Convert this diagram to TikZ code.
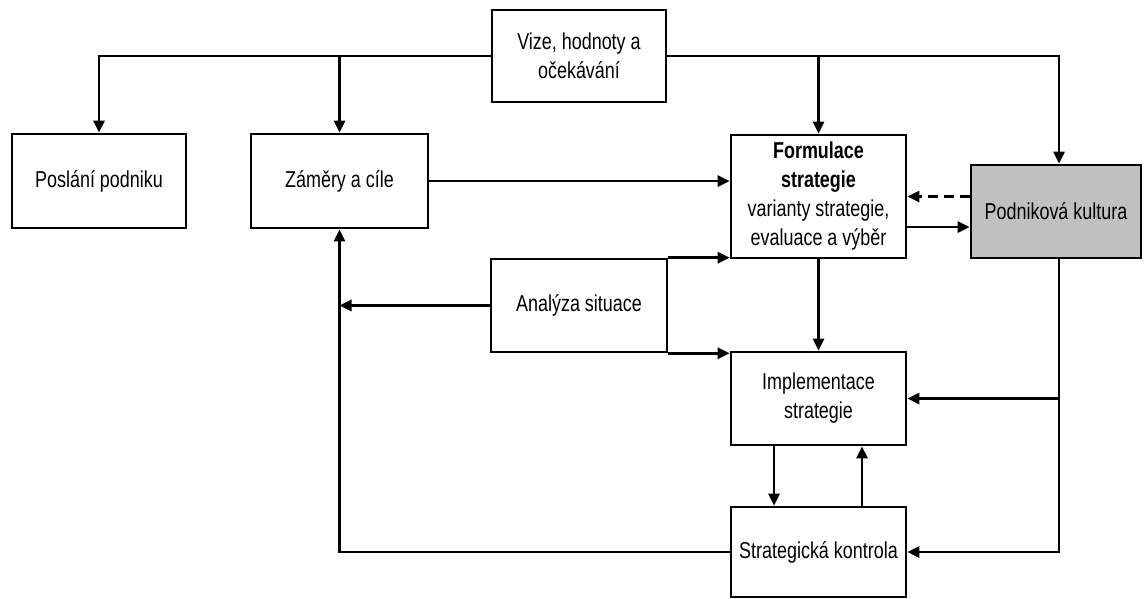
\documentclass[tikz,border=0pt]{standalone}
\usepackage{fontspec}
\setmainfont{Liberation Sans}[FakeStretch=0.78]
\usetikzlibrary{arrows.meta}
\definecolor{cultgray}{RGB}{192,192,192}
\tikzset{
  box/.style={draw=black, line width=2.6pt, fill=white, align=center, inner sep=0pt,
    font=\fontsize{23}{29}\selectfont},
  arr/.style={line width=2.6pt, -{Triangle[length=12pt,width=11pt]}},
  ln/.style={line width=2.6pt}
}
\begin{document}
\begin{tikzpicture}[x=1pt,y=-1pt]
\useasboundingbox (0,0) rectangle (1144,598);
\node[box, minimum width=174pt, minimum height=92pt] (vize) at (579,56) {Vize, hodnoty a\\očekávání};
\node[box, minimum width=174pt, minimum height=94pt] (poslani) at (99,181) {Poslání podniku};
\node[box, minimum width=177pt, minimum height=94pt] (zamery) at (339.5,181) {Záměry a cíle};
\node[box, minimum width=175pt, minimum height=123pt] (formulace) at (818.5,196.5) {{\bfseries Formulace}\\{\bfseries strategie}\\varianty strategie,\\evaluace a výběr};
\node[box, fill=cultgray, minimum width=170pt, minimum height=93pt] (kultura) at (1056,211.5) {Podniková kultura};
\node[box, minimum width=176pt, minimum height=93pt] (analyza) at (579,305.5) {Analýza situace};
\node[box, minimum width=175pt, minimum height=93pt] (impl) at (818.5,398.5) {Implementace\\strategie};
\node[box, minimum width=175pt, minimum height=90pt] (kontrola) at (818.5,552) {Strategická kontrola};

% from vision
\coordinate (vl) at (vize.west);
\coordinate (vr) at (vize.east);
\draw[arr] (vl) -| (poslani.north);
\draw[arr] (zamery.north |- vl) -- (zamery.north);
\coordinate (kx) at (1059,0);
\draw[arr] (vr) -| (kx |- kultura.north);
\draw[arr] (formulace.north |- vr) -- (formulace.north);

% zamery -> formulace
\draw[arr] (zamery.east) -- (zamery.east -| formulace.west);

% kultura <-> formulace
\draw[arr, dash pattern=on 10pt off 6pt] ([yshift=15pt]kultura.west) -- ([yshift=15pt]kultura.west -| formulace.east);
\draw[arr] ([yshift=-15.5pt]kultura.west -| formulace.east) -- ([yshift=-15.5pt]kultura.west);

% analyza
\draw[arr] (analyza.north east) -- (analyza.north east -| formulace.west);
\draw[arr] (analyza.south east) -- (analyza.south east -| impl.west);
\draw[arr] (analyza.west) -- (analyza.west -| zamery.south);

% formulace -> implementace
\draw[arr] (formulace.south) -- (impl.north);

% implementace <-> kontrola
\draw[arr] ([xshift=-44.5pt]impl.south) -- ([xshift=-44.5pt]impl.south |- kontrola.north);
\draw[arr] ([xshift=43.5pt]kontrola.north) -- ([xshift=43.5pt]kontrola.north |- impl.south);

% kultura -> implementace, kontrola
\draw[arr] (kx |- kultura.south) |- (kontrola.east);
\draw[arr] (kx |- impl.east) -- (impl.east);

% kontrola -> zamery
\draw[arr] (kontrola.west) -| (zamery.south);
\end{tikzpicture}
\end{document}
